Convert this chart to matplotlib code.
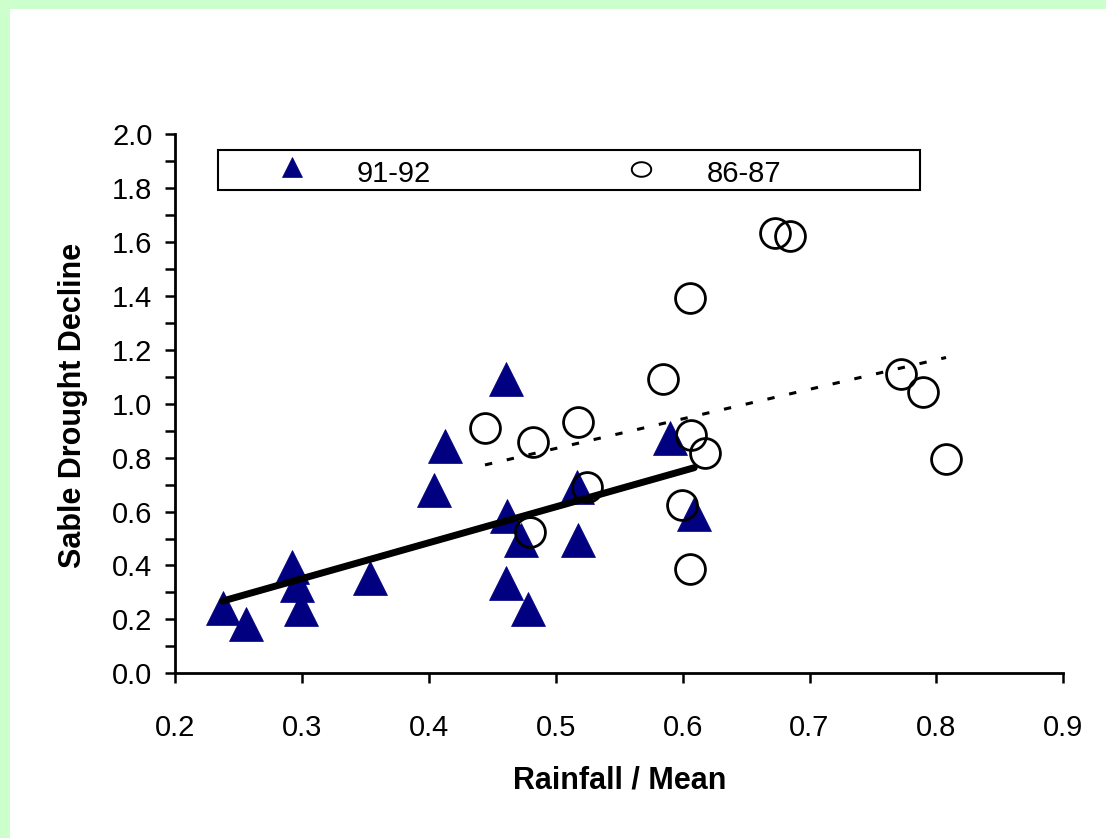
import numpy as np
import matplotlib
matplotlib.use("Agg")
import matplotlib.pyplot as plt
from matplotlib.patches import Rectangle
from matplotlib.ticker import MultipleLocator, FormatStrFormatter

plt.rcParams['font.family'] = ['Liberation Sans', 'DejaVu Sans']

# 91-92 season (triangles)
x_9192 = [0.2376, 0.2562, 0.2924, 0.2965, 0.2993, 0.3537, 0.4043, 0.4125, 0.4608,
          0.4619, 0.4724, 0.4608, 0.4779, 0.5176, 0.5166, 0.5898, 0.6092]
y_9192 = [0.241, 0.184, 0.393, 0.329, 0.240, 0.354, 0.681, 0.843, 1.091,
          0.585, 0.495, 0.335, 0.240, 0.495, 0.690, 0.872, 0.592]

# 86-87 season (circles)
x_8687 = [0.6058, 0.5848, 0.4443, 0.4819, 0.5178, 0.6064, 0.6177, 0.5244,
          0.5993, 0.4797, 0.6058, 0.6728, 0.6846, 0.7721, 0.7897, 0.8076]
y_8687 = [1.391, 1.091, 0.911, 0.857, 0.934, 0.884, 0.816, 0.690,
          0.624, 0.525, 0.386, 1.635, 1.624, 1.111, 1.045, 0.794]

labels = ['91-92', '86-87']
navy = '#000080'

W, H = 1106, 838
fig = plt.figure(figsize=(W / 100, H / 100), dpi=100, facecolor='#CCFFCC')
# white panel inside the green frame
fig.patches.append(Rectangle((10 / W, 0), 1 - 10 / W, 1 - 9 / H, transform=fig.transFigure,
                             facecolor='white', edgecolor='none', zorder=-10))

ax = fig.add_axes([175 / W, 1 - 673.3 / H, 888.3 / W, 539 / H])
ax.set_facecolor('none')

ax.plot(x_9192, y_9192, linestyle='none', marker='^', ms=25, mfc=navy, mec=navy,
        mew=0.5, zorder=3, clip_on=False)
ax.plot(x_8687, y_8687, linestyle='none', marker='o', ms=21.5, mfc='none', mec='black',
        mew=2, zorder=4, clip_on=False)

# linear trendlines
p1 = np.polyfit(x_9192, y_9192, 1)
xs1 = np.array([min(x_9192), max(x_9192)])
ax.plot(xs1, np.polyval(p1, xs1), color='black', lw=5, solid_capstyle='round', zorder=5)

p2 = np.polyfit(x_8687, y_8687, 1)
xs2 = np.array([min(x_8687), max(x_8687)])
ax.plot(xs2, np.polyval(p2, xs2), color='black', lw=2.2, linestyle=(0, (2.4, 4.9)), zorder=5)

ax.set_xlim(0.2, 0.9)
ax.set_ylim(0, 2.0)
ax.xaxis.set_major_locator(MultipleLocator(0.1))
ax.yaxis.set_major_locator(MultipleLocator(0.2))
ax.yaxis.set_minor_locator(MultipleLocator(0.1))
ax.xaxis.set_major_formatter(FormatStrFormatter('%.1f'))
ax.yaxis.set_major_formatter(FormatStrFormatter('%.1f'))

for s in ['top', 'right']:
    ax.spines[s].set_visible(False)
for s in ['left', 'bottom']:
    ax.spines[s].set_linewidth(2)

ax.tick_params(axis='x', which='major', direction='out', length=7.2, width=1.8,
               labelsize=21, pad=22)
ax.tick_params(axis='y', which='major', direction='out', length=7.2, width=1.8,
               labelsize=21, pad=9)
ax.tick_params(axis='y', which='minor', direction='out', length=7.2, width=1.8)

fig.text(620 / W, 1 - 780 / H, 'Rainfall / Mean', ha='center', va='center',
         fontsize=22, fontweight='bold')
fig.text(73 / W, 1 - 405 / H, 'Sable Drought Decline', ha='center', va='center',
         rotation=90, fontsize=22, fontweight='bold')

# legend box
def ax_x(px):
    return (px - 175) / 888.3

def ax_y(py):
    return (673.3 - py) / 539

ax.add_patch(Rectangle((ax_x(218), ax_y(190)), ax_x(920) - ax_x(218), ax_y(150) - ax_y(190),
                       transform=ax.transAxes, facecolor='white', edgecolor='black',
                       lw=1.5, zorder=6, clip_on=False))
ax.plot([ax_x(291.5)], [ax_y(167.5)], transform=ax.transAxes, marker='^', ms=15,
        mfc=navy, mec=navy, mew=0.5, zorder=7, clip_on=False)
t = np.linspace(0, 2 * np.pi, 80)
ellipse = list(zip(np.cos(t), 0.75 * np.sin(t)))
ax.plot([ax_x(641)], [ax_y(169)], transform=ax.transAxes, marker=ellipse, ms=14,
        mfc='white', mec='black', mew=1.4, zorder=7, clip_on=False)
ax.text(ax_x(356.7), ax_y(182.3), labels[0], transform=ax.transAxes, fontsize=21,
        va='baseline', ha='left', zorder=7)
ax.text(ax_x(706.7), ax_y(182.3), labels[1], transform=ax.transAxes, fontsize=21,
        va='baseline', ha='left', zorder=7)

fig.savefig('out.png', dpi=100, facecolor=fig.get_facecolor())
